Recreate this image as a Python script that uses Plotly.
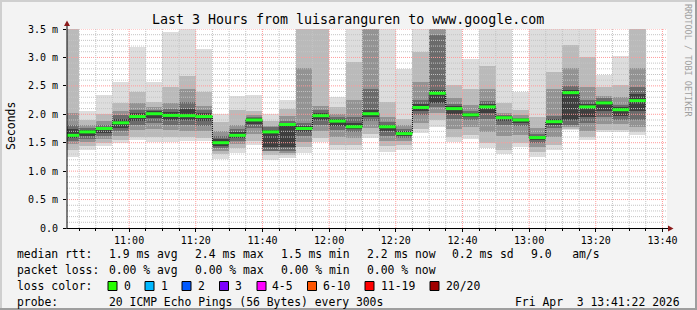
import plotly.graph_objects as go
import pandas as pd
import numpy as np

# ---------------- data ----------------
bar_start = pd.date_range("2026-04-03 10:40", periods=35, freq="5min")

median = [1.63, 1.69, 1.75, 1.85, 1.96, 2.01, 1.98, 1.975, 1.96, 1.50,
          1.63, 1.90, 1.69, 1.82, 1.75, 1.975, 1.88, 1.78, 2.01, 1.78,
          1.66, 2.12, 2.37, 2.10, 1.99, 2.13, 1.94, 1.90, 1.59, 1.87,
          2.38, 2.13, 2.20, 2.08, 2.24]

# outermost smoke (min .. max ping)
p_min = [1.25, 1.37, 1.45, 1.49, 1.55, 1.52, 1.52, 1.53, 1.53, 1.21,
         1.32, 1.46, 1.20, 1.23, 1.32, 1.51, 1.37, 1.37, 1.58, 1.34,
         1.38, 1.67, 1.78, 1.52, 1.56, 1.41, 1.30, 1.43, 1.25, 1.37,
         1.72, 1.55, 1.69, 1.69, 1.64]
p_max = [4.6, 2.06, 2.34, 2.56, 3.19, 2.57, 3.45, 3.6, 3.15, 2.00,
         2.33, 2.34, 2.00, 2.25, 4.8, 4.5, 2.31, 4.5, 4.6, 4.0,
         2.80, 4.5, 5.0, 4.0, 2.98, 4.0, 4.0, 2.39, 4.0, 4.0,
         4.0, 4.2, 2.69, 3.02, 4.4]

b2_lo = [1.38, 1.45, 1.50, 1.54, 1.60, 1.60, 1.60, 1.60, 1.58, 1.30,
         1.40, 1.53, 1.28, 1.28, 1.42, 1.58, 1.46, 1.46, 1.66, 1.44,
         1.46, 1.74, 1.90, 1.60, 1.63, 1.50, 1.38, 1.50, 1.33, 1.46,
         1.75, 1.60, 1.73, 1.73, 1.68]
b2_hi = [4.3, 1.90, 2.00, 2.19, 2.40, 2.22, 2.48, 2.67, 2.40, 1.87,
         2.08, 2.05, 1.88, 2.10, 4.5, 4.2, 2.13, 2.92, 4.6, 2.22,
         1.92, 3.10, 5.0, 2.51, 2.45, 2.85, 2.20, 2.08, 1.95, 2.75,
         3.22, 3.00, 2.48, 2.51, 4.4]

b3_lo = [1.48, 1.52, 1.57, 1.62, 1.72, 1.75, 1.72, 1.70, 1.70, 1.36,
         1.48, 1.65, 1.35, 1.32, 1.52, 1.70, 1.60, 1.58, 1.76, 1.53,
         1.53, 1.84, 2.02, 1.75, 1.78, 1.68, 1.62, 1.63, 1.42, 1.60,
         1.78, 1.70, 1.83, 1.83, 1.78]
b3_hi = [2.02, 1.82, 1.88, 2.05, 2.20, 2.12, 2.20, 2.45, 2.15, 1.70,
         1.82, 1.98, 1.80, 1.97, 2.81, 2.15, 2.00, 2.25, 4.0, 1.95,
         1.82, 2.57, 4.5, 2.28, 2.16, 2.45, 2.03, 1.98, 1.76, 2.45,
         2.81, 2.48, 2.33, 2.30, 2.81]

b4_lo = [1.53, 1.57, 1.62, 1.70, 1.82, 1.85, 1.82, 1.82, 1.80, 1.40,
         1.53, 1.76, 1.35, 1.36, 1.62, 1.82, 1.72, 1.68, 1.88, 1.62,
         1.58, 1.98, 2.12, 1.92, 1.90, 1.92, 1.82, 1.80, 1.50, 1.76,
         1.82, 1.85, 1.95, 1.90, 1.90]
b4_hi = [1.81, 1.76, 1.82, 1.98, 2.08, 2.08, 2.10, 2.22, 2.07, 1.62,
         1.74, 1.95, 1.78, 1.88, 1.85, 2.08, 1.95, 1.95, 2.45, 1.86,
         1.75, 2.25, 3.40, 2.18, 2.06, 2.24, 1.99, 1.94, 1.66, 1.97,
         2.50, 2.25, 2.28, 2.16, 2.48]

b5_lo = [1.58, 1.62, 1.67, 1.76, 1.88, 1.93, 1.90, 1.90, 1.88, 1.44,
         1.58, 1.83, 1.42, 1.42, 1.68, 1.90, 1.80, 1.74, 1.96, 1.70,
         1.62, 2.05, 2.20, 2.00, 1.95, 2.02, 1.88, 1.85, 1.54, 1.82,
         1.90, 1.95, 2.05, 1.97, 2.05]
b5_hi = [1.74, 1.72, 1.78, 1.92, 2.02, 2.05, 2.04, 2.10, 2.02, 1.56,
         1.68, 1.93, 1.73, 1.85, 1.80, 2.03, 1.92, 1.84, 2.08, 1.82,
         1.70, 2.18, 2.42, 2.14, 2.03, 2.18, 1.97, 1.92, 1.62, 1.92,
         2.42, 2.18, 2.24, 2.12, 2.35]

y_ticks = [0.0, 0.5, 1.0, 1.5, 2.0, 2.5, 3.0, 3.5]
y_tick_text = ["0.0", "0.5 m", "1.0 m", "1.5 m", "2.0 m", "2.5 m", "3.0 m", "3.5 m"]

loss_labels = ["0", "1", "2", "3", "4-5", "6-10", "11-19", "20/20"]
loss_colors = ["#26ff00", "#00b8ff", "#0059ff", "#7e00ff", "#ff00ff", "#ff5500", "#ff0000", "#a10000"]

t_start = "2026-04-03 10:41:22"
t_end = "2026-04-03 13:41:22"

# ---------------- geometry helpers (layout only) ----------------
W, H = 697, 310
L, R, T, B = 67, 667, 29, 228
def px(x):
    return (x - L) / (R - L)
def py(y):
    return (B - y) / (B - T)

MONO = "DejaVu Sans Mono"
FMT = "%Y-%m-%d %H:%M:%S"
GRID_MINOR = "#c4c4c4"
GRID_MAJOR = "#ff9a9a"

fig = go.Figure()

centers = (bar_start + pd.Timedelta(minutes=2.5)).strftime(FMT)
bands = [(p_min, p_max, "#dddddd"), (b2_lo, b2_hi, "#bababa"), (b3_lo, b3_hi, "#939393"),
         (b4_lo, b4_hi, "#6b6b6b"), (b5_lo, b5_hi, "#3e3e3e")]
for lo, hi, col in bands:
    lo = np.array(lo); hi = np.array(hi)
    fig.add_trace(go.Bar(x=list(centers), y=hi - lo, base=lo, width=300000,
                         marker=dict(color=col, line=dict(width=0)), hoverinfo="skip",
                         showlegend=False))

# grid as dotted line traces (above the smoke, below the median line)
def grid_trace(xs, ys, color):
    fig.add_trace(go.Scatter(x=xs, y=ys, mode="lines", line=dict(color=color, width=1, dash="1px,1px"),
                             hoverinfo="skip", showlegend=False))

for major in (False, True):
    xs, ys = [], []
    for i in range(1, 36):
        if (i % 5 == 0) != major:
            continue
        v = i / 10
        xs += [t_start, t_end, None]
        ys += [v, v, None]
    grid_trace(xs, ys, GRID_MAJOR if major else GRID_MINOR)
grid_times = pd.date_range("2026-04-03 10:45", "2026-04-03 13:40", freq="5min")
for major in (False, True):
    xs, ys = [], []
    for t in grid_times:
        if (t.minute % 20 == 0) != major:
            continue
        ts = t.strftime(FMT)
        xs += [ts, ts, None]
        ys += [0, 3.5, None]
    grid_trace(xs, ys, GRID_MAJOR if major else GRID_MINOR)

# median: dark connector step line, then green segments on top
starts_s = list(bar_start.strftime(FMT))
ends_s = list((bar_start + pd.Timedelta(minutes=5)).strftime(FMT))
step_x = starts_s + [ends_s[-1]]
step_y = median + [median[-1]]
fig.add_trace(go.Scatter(x=step_x, y=step_y, mode="lines",
                         line=dict(shape="hv", color="#000000", width=1, dash="1px,1px"),
                         hoverinfo="skip", showlegend=False))
seg_x, seg_y = [], []
for s, e, m in zip(starts_s, ends_s, median):
    seg_x += [s, e, None]
    seg_y += [m, m, None]
fig.add_trace(go.Scatter(x=seg_x, y=seg_y, mode="lines", line=dict(color="#22ff22", width=3),
                         hoverinfo="skip", showlegend=False))

shapes = []
# axes lines and arrows
shapes.append(dict(type="line", xref="paper", yref="paper", x0=px(66.5), x1=px(669), y0=py(228.5), y1=py(228.5),
                   line=dict(color="#000000", width=1), layer="above"))
shapes.append(dict(type="line", xref="paper", yref="paper", x0=px(67), x1=px(67), y0=py(229), y1=py(25),
                   line=dict(color="#000000", width=1), layer="above"))
shapes.append(dict(type="path", xref="paper", yref="paper",
                   path=f"M {px(668)} {py(225.5)} L {px(673.5)} {py(228.5)} L {px(668)} {py(231.5)} Z",
                   fillcolor="#8b1a1a", line=dict(width=0), layer="above"))
shapes.append(dict(type="path", xref="paper", yref="paper",
                   path=f"M {px(64)} {py(26)} L {px(67)} {py(20.5)} L {px(70)} {py(26)} Z",
                   fillcolor="#8b1a1a", line=dict(width=0), layer="above"))

# outer frame
shapes.append(dict(type="rect", xref="paper", yref="paper", x0=px(0), x1=px(697), y0=py(0), y1=py(2),
                   fillcolor="#cfcfcf", line=dict(width=0)))
shapes.append(dict(type="rect", xref="paper", yref="paper", x0=px(0), x1=px(2), y0=py(0), y1=py(310),
                   fillcolor="#cfcfcf", line=dict(width=0)))
shapes.append(dict(type="rect", xref="paper", yref="paper", x0=px(695), x1=px(697), y0=py(0), y1=py(310),
                   fillcolor="#9e9e9e", line=dict(width=0)))
shapes.append(dict(type="rect", xref="paper", yref="paper", x0=px(0), x1=px(697), y0=py(308), y1=py(310),
                   fillcolor="#9e9e9e", line=dict(width=0)))

# loss colour swatches
sw_x = [108, 145, 182, 219.5, 257, 307.5, 365, 430]
lab_x = [123, 160, 197, 234, 271, 322, 380, 445]
for sx, c in zip(sw_x, loss_colors):
    shapes.append(dict(type="rect", xref="paper", yref="paper", x0=px(sx), x1=px(sx + 9), y0=py(281.5), y1=py(290.5),
                       fillcolor=c, line=dict(color="#000000", width=1)))

ann = []
def text(x, y, s, size=11.4, anchor="left", color="#000000", angle=0, yanchor="middle"):
    ann.append(dict(x=px(x), y=py(y), xref="paper", yref="paper", text=s, showarrow=False,
                    xanchor=anchor, yanchor=yanchor, textangle=angle, borderpad=0,
                    font=dict(family=MONO, size=size, color=color)))

text(348, 19, "Last 3 Hours from luisaranguren to www.google.com", size=13.3, anchor="center")
text(11, 126, "Seconds", size=11.5, anchor="center", angle=-90)
text(688, 60, "RRDTOOL / TOBI OETIKER", size=8.5, anchor="center", angle=90, color="#a0a0a0")

med = np.array(median)
avg = np.mean(med); mx = np.max(med); mn = np.min(med); now = med[-1]; sd = np.std(med)
row1 = [("median rtt:", 16), (f"{avg:.1f} ms avg", 107.5), (f"{mx:.1f} ms max", 194), (f"{mn:.1f} ms min", 280),
        (f"{now:.1f} ms now", 365.5), (f"{sd:.1f} ms sd", 451), ("9.0   am/s", 530)]
for s, x in row1:
    text(x, 254, s.replace(" ", "&nbsp;"))
row2 = [("packet loss:", 16), ("0.00 % avg", 107.5), ("0.00 % max", 194), ("0.00 % min", 280), ("0.00 % now", 365.5)]
for s, x in row2:
    text(x, 270, s.replace(" ", "&nbsp;"))
text(16, 286, "loss color:")
for lx, lab in zip(lab_x, loss_labels):
    text(lx, 286, lab)
text(16, 302, "probe:")
text(107.5, 302, "20 ICMP Echo Pings (56 Bytes) every 300s".replace(" ", "&nbsp;"))
text(681, 302, "Fri Apr  3 13:41:22 2026".replace(" ", "&nbsp;"), anchor="right")

fig.update_layout(
    width=W, height=H,
    margin=dict(l=L, r=W - R, t=T, b=H - B, pad=0),
    paper_bgcolor="#f3f3f3", plot_bgcolor="#ffffff",
    barmode="overlay", bargap=0,
    showlegend=False,
    shapes=shapes, annotations=ann,
    xaxis=dict(type="date", range=[t_start, t_end], showgrid=False, zeroline=False, showline=False,
               dtick=1200000, tick0="2026-04-03 11:00", tickformat="%H:%M",
               ticks="outside", ticklen=3, tickcolor="#000000",
               minor=dict(dtick=300000, tick0="2026-04-03 10:45", ticks="outside", ticklen=2, tickcolor="#000000", showgrid=False),
               tickfont=dict(family=MONO, size=10, color="#000000"), fixedrange=True),
    yaxis=dict(range=[0, 3.5], showgrid=False, zeroline=False, showline=False,
               tickvals=y_ticks, ticktext=y_tick_text, ticks="outside", ticklen=3, tickcolor="#000000",
               ticklabelstandoff=3,
               tickfont=dict(family=MONO, size=10, color="#000000"), fixedrange=True),
)

fig.write_html("out.html")
